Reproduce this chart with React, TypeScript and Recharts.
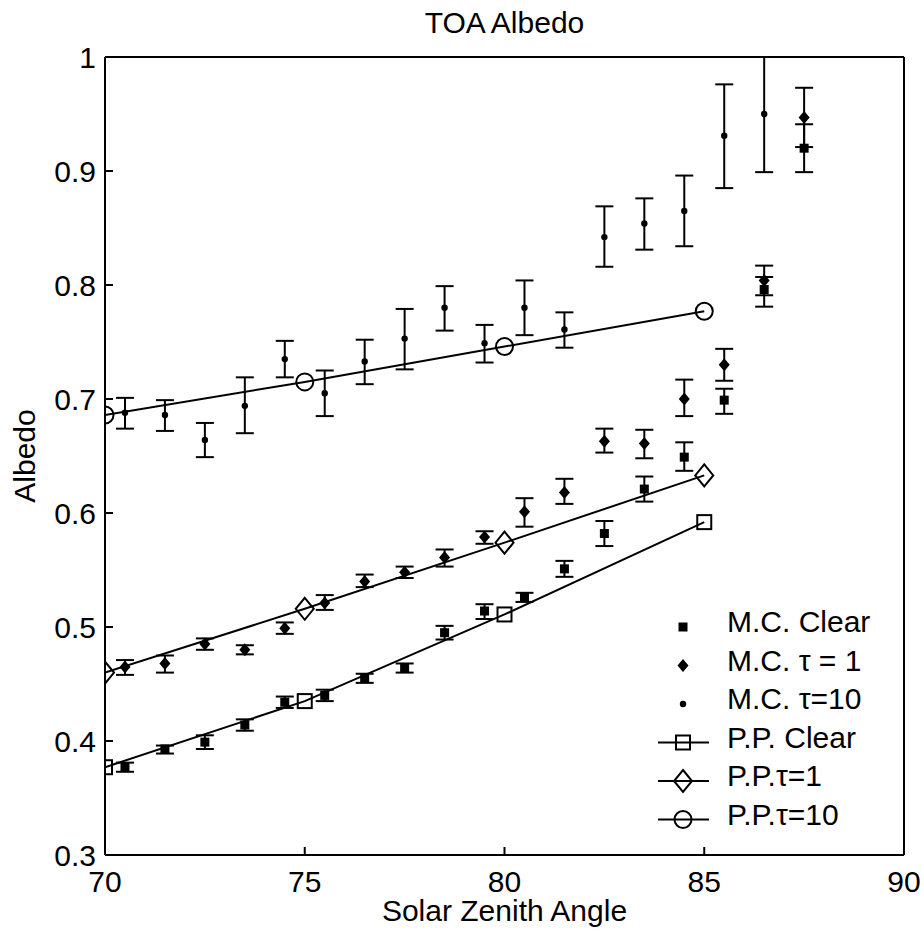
import React from 'react';
import { ScatterChart, Scatter, XAxis, YAxis, ErrorBar, Legend } from 'recharts';

const FONT = '"Liberation Sans", Arial, Helvetica, sans-serif';

// Monte Carlo runs, sampled at half-degree offsets
const mcAngles = [70.5, 71.5, 72.5, 73.5, 74.5, 75.5, 76.5, 77.5, 78.5, 79.5, 80.5, 81.5, 82.5, 83.5, 84.5, 85.5, 86.5, 87.5];

const mcClear = [0.377, 0.393, 0.399, 0.414, 0.434, 0.44, 0.455, 0.464, 0.495, 0.514, 0.526, 0.551, 0.582, 0.621, 0.649, 0.699, 0.796, 0.92];
const mcClearLow = [0.373, 0.389, 0.393, 0.409, 0.429, 0.435, 0.451, 0.46, 0.489, 0.507, 0.522, 0.544, 0.571, 0.61, 0.637, 0.687, 0.781, 0.899];
const mcClearHigh = [0.381, 0.396, 0.405, 0.419, 0.439, 0.445, 0.459, 0.468, 0.501, 0.52, 0.53, 0.558, 0.593, 0.632, 0.662, 0.709, 0.807, 0.941];

const mcTau1 = [0.465, 0.468, 0.485, 0.48, 0.499, 0.521, 0.54, 0.548, 0.561, 0.579, 0.601, 0.618, 0.663, 0.661, 0.7, 0.73, 0.804, 0.947];
const mcTau1Low = [0.458, 0.46, 0.48, 0.476, 0.494, 0.515, 0.535, 0.543, 0.553, 0.573, 0.588, 0.608, 0.653, 0.648, 0.685, 0.716, 0.791, 0.921];
const mcTau1High = [0.471, 0.475, 0.49, 0.484, 0.504, 0.528, 0.546, 0.553, 0.568, 0.584, 0.613, 0.63, 0.674, 0.673, 0.717, 0.744, 0.817, 0.973];

// tau=10 has no point at 87.5 (off the top of the plot)
const mcTau10 = [0.688, 0.686, 0.664, 0.694, 0.735, 0.705, 0.733, 0.753, 0.78, 0.749, 0.78, 0.761, 0.842, 0.854, 0.865, 0.931, 0.95];
const mcTau10Low = [0.674, 0.672, 0.649, 0.67, 0.719, 0.685, 0.713, 0.726, 0.76, 0.732, 0.756, 0.745, 0.816, 0.831, 0.834, 0.885, 0.899];
const mcTau10High = [0.701, 0.699, 0.679, 0.719, 0.751, 0.725, 0.752, 0.779, 0.799, 0.765, 0.804, 0.776, 0.869, 0.876, 0.896, 0.976, 1.0];

// plane-parallel results
const ppAngles = [70, 75, 80, 85];
const ppClear = [0.377, 0.435, 0.511, 0.592];
const ppTau1 = [0.46, 0.516, 0.574, 0.633];
const ppTau10 = [0.686, 0.715, 0.746, 0.777];

const xTicks = [70, 75, 80, 85, 90];
const yTicks = [0.3, 0.4, 0.5, 0.6, 0.7, 0.8, 0.9, 1];

const withErrors = (xs: number[], ys: number[], lo: number[], hi: number[]) =>
  ys.map((y, i) => ({ x: xs[i], y, err: [y - lo[i], hi[i] - y] }));
const plain = (xs: number[], ys: number[]) => ys.map((y, i) => ({ x: xs[i], y }));

const clearRows = withErrors(mcAngles, mcClear, mcClearLow, mcClearHigh);
const tau1Rows = withErrors(mcAngles, mcTau1, mcTau1Low, mcTau1High);
const tau10Rows = withErrors(mcAngles, mcTau10, mcTau10Low, mcTau10High);
const ppClearRows = plain(ppAngles, ppClear);
const ppTau1Rows = plain(ppAngles, ppTau1);
const ppTau10Rows = plain(ppAngles, ppTau10);

const FilledSquare = ({ cx, cy }: any) => <rect x={cx - 4.5} y={cy - 4.5} width={9} height={9} fill="#000" />;
const FilledDiamond = ({ cx, cy }: any) => (
  <polygon points={`${cx},${cy - 6.5} ${cx + 5.5},${cy} ${cx},${cy + 6.5} ${cx - 5.5},${cy}`} fill="#000" />
);
const SmallDot = ({ cx, cy }: any) => <circle cx={cx} cy={cy} r={3.2} fill="#000" />;
const OpenSquare = ({ cx, cy }: any) => (
  <rect x={cx - 7} y={cy - 7} width={14} height={14} fill="none" stroke="#000" strokeWidth={2} />
);
const OpenDiamond = ({ cx, cy }: any) => (
  <polygon points={`${cx},${cy - 11} ${cx + 9},${cy} ${cx},${cy + 11} ${cx - 9},${cy}`} fill="none" stroke="#000" strokeWidth={2} />
);
const OpenCircle = ({ cx, cy }: any) => <circle cx={cx} cy={cy} r={8.5} fill="none" stroke="#000" strokeWidth={2} />;

const legendItems = [
  { label: 'M.C. Clear', Marker: FilledSquare, line: false },
  { label: 'M.C. τ = 1', Marker: FilledDiamond, line: false },
  { label: 'M.C. τ=10', Marker: SmallDot, line: false },
  { label: 'P.P. Clear', Marker: OpenSquare, line: true },
  { label: 'P.P.τ=1', Marker: OpenDiamond, line: true },
  { label: 'P.P.τ=10', Marker: OpenCircle, line: true },
];

const renderLegend = () => (
  <svg width={260} height={240} style={{ display: 'block' }}>
    {legendItems.map((item, i) => {
      const cy = 27 + i * 38.5;
      const M = item.Marker;
      return (
        <g key={item.label}>
          {item.line && <line x1={18} x2={69} y1={cy} y2={cy} stroke="#000" strokeWidth={2} />}
          <M cx={43} cy={cy} />
          <text x={87} y={cy + 5} fontSize={30} fontFamily={FONT} fill="#000">
            {item.label}
          </text>
        </g>
      );
    })}
  </svg>
);

const renderYLabel = (props: any) => {
  const vb = props.viewBox;
  const cy = vb.y + vb.height / 2;
  return (
    <text x={35} y={cy} transform={`rotate(-90 35 ${cy})`} textAnchor="middle" fontSize={30} fontFamily={FONT} fill="#000">
      Albedo
    </text>
  );
};

const tickStyle = { fill: '#000', fontSize: 30, fontFamily: FONT };
const axisLine = { stroke: '#000', strokeWidth: 2 };
const noLabel = () => <g />;

export default function App() {
  return (
    <div style={{ position: 'absolute', left: 0, top: 0, width: 924, height: 937, background: '#fff' }}>
      <ScatterChart width={924} height={937} margin={{ top: 56, right: 19, bottom: 0, left: 0 }}>
        <XAxis
          dataKey="x"
          type="number"
          domain={[70, 90]}
          ticks={xTicks}
          interval={0}
          allowDataOverflow
          height={82}
          tickSize={-8}
          tickMargin={24}
          axisLine={axisLine}
          tickLine={axisLine}
          tick={tickStyle}
          label={{ value: 'Solar Zenith Angle', position: 'insideBottom', offset: 16, fill: '#000', fontSize: 30, fontFamily: FONT }}
        />
        <XAxis
          xAxisId="top"
          orientation="top"
          type="number"
          domain={[70, 90]}
          ticks={xTicks}
          interval={0}
          height={1}
          tickSize={-8}
          axisLine={axisLine}
          tickLine={axisLine}
          tick={noLabel}
          label={{ value: 'TOA Albedo', position: 'top', offset: 23, fill: '#000', fontSize: 30, fontFamily: FONT }}
        />
        <YAxis
          dataKey="y"
          type="number"
          domain={[0.3, 1]}
          ticks={yTicks}
          interval={0}
          allowDataOverflow
          width={105}
          tickSize={-8}
          tickMargin={17}
          axisLine={axisLine}
          tickLine={axisLine}
          tick={tickStyle}
          label={renderYLabel}
        />
        <YAxis
          yAxisId="right"
          orientation="right"
          type="number"
          domain={[0.3, 1]}
          ticks={yTicks}
          interval={0}
          width={1}
          tickSize={-8}
          axisLine={axisLine}
          tickLine={axisLine}
          tick={noLabel}
        />
        <Scatter name="M.C. Clear" data={clearRows} shape={FilledSquare} isAnimationActive={false}>
          <ErrorBar dataKey="err" direction="y" width={9} stroke="#000" strokeWidth={2} />
        </Scatter>
        <Scatter name="M.C. τ = 1" data={tau1Rows} shape={FilledDiamond} isAnimationActive={false}>
          <ErrorBar dataKey="err" direction="y" width={9} stroke="#000" strokeWidth={2} />
        </Scatter>
        <Scatter name="M.C. τ=10" data={tau10Rows} shape={SmallDot} isAnimationActive={false}>
          <ErrorBar dataKey="err" direction="y" width={9} stroke="#000" strokeWidth={2} />
        </Scatter>
        <Scatter name="P.P. Clear" data={ppClearRows} shape={OpenSquare} line={{ stroke: '#000', strokeWidth: 2 }} isAnimationActive={false} />
        <Scatter name="P.P.τ=1" data={ppTau1Rows} shape={OpenDiamond} line={{ stroke: '#000', strokeWidth: 2 }} isAnimationActive={false} />
        <Scatter name="P.P.τ=10" data={ppTau10Rows} shape={OpenCircle} line={{ stroke: '#000', strokeWidth: 2 }} isAnimationActive={false} />
        <Legend
          layout="vertical"
          align="center"
          verticalAlign="middle"
          content={renderLegend}
          wrapperStyle={{ left: 640, top: 600, width: 260, height: 240 }}
        />
      </ScatterChart>
    </div>
  );
}
